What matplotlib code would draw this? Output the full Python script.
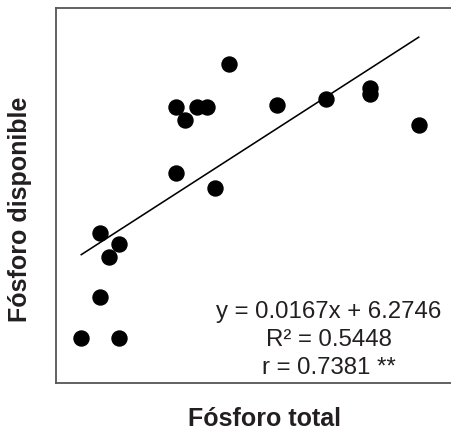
import matplotlib
matplotlib.use("Agg")
import matplotlib.pyplot as plt
import numpy as np

plt.rcParams['font.family'] = ['Liberation Sans', 'DejaVu Sans']

# Data
fosforo_total = [101, 168, 134, 134, 167.5, 150.8, 268.8, 339.2, 268.8, 284.8,
                 307.2, 325.0, 363.5, 448.9, 535.4, 614.1, 614.1, 700.7]
fosforo_disp = [4.14, 4.14, 6.00, 8.94, 8.44, 7.87, 11.73, 11.02, 14.77, 14.16,
                14.77, 14.77, 16.74, 14.85, 15.11, 15.62, 15.36, 13.92]
slope = 0.0167
intercept = 6.2746
eq_lines = ["y = 0.0167x + 6.2746", "R\u00b2 = 0.5448", "r = 0.7381 **"]
xlabel = "F\u00f3sforo total"
ylabel = "F\u00f3sforo disponible"

W, H = 452, 430
fig = plt.figure(figsize=(W / 100, H / 100), dpi=100)
ax = fig.add_axes([56.3 / W, 1 - 383 / H, (472 - 56.3) / W, (383 - 8) / H])

ax.plot(fosforo_total, fosforo_disp, 'o', color='black', ms=10.8, mec='black', zorder=3)
xs = np.array([min(fosforo_total), max(fosforo_total)])
ax.plot(xs, slope * xs + intercept, color='black', lw=1.15, zorder=2)

ax.set_xlim(56.6, 795.4)
ax.set_ylim(2.05, 19.32)
ax.set_xticks([])
ax.set_yticks([])
for s in ax.spines.values():
    s.set_color('#555555')
    s.set_linewidth(1.3)

baselines = [317.7, 346.5, 374.5]
for t, b in zip(eq_lines, baselines):
    fig.text(329 / W, 1 - b / H, t, ha='center', va='baseline', fontsize=17.3, color='#231f20')

fig.text(264 / W, 1 - 426.5 / H, xlabel, ha='center', va='baseline', fontsize=18,
         fontweight='bold', color='#231f20')
fig.text(20 / W, 1 - 209.5 / H, ylabel, ha='center', va='center', rotation=90,
         fontsize=18, fontweight='bold', color='#231f20')

fig.savefig("out.png", dpi=100)
